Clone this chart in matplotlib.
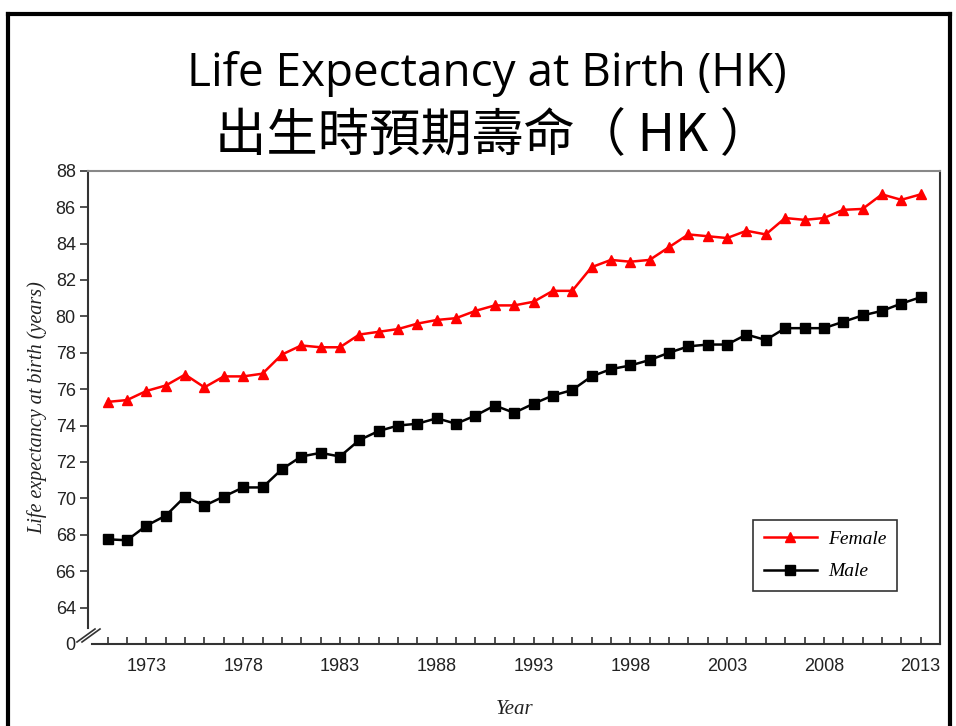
import numpy as np
import matplotlib
matplotlib.use("Agg")
import matplotlib.pyplot as plt
from matplotlib.lines import Line2D

years = list(range(1971, 2014))
female = [75.3, 75.4, 75.9, 76.2, 76.8, 76.1, 76.7, 76.7, 76.85, 77.9,
          78.4, 78.3, 78.3, 79.0, 79.15, 79.3, 79.6, 79.8, 79.9, 80.3,
          80.6, 80.6, 80.8, 81.4, 81.4, 82.7, 83.1, 83.0, 83.1, 83.8,
          84.5, 84.4, 84.3, 84.7, 84.5, 85.4, 85.3, 85.4, 85.85, 85.9,
          86.7, 86.4, 86.7]
male = [67.75, 67.7, 68.5, 69.05, 70.1, 69.6, 70.1, 70.6, 70.6, 71.6,
        72.3, 72.5, 72.3, 73.2, 73.7, 74.0, 74.1, 74.4, 74.1, 74.55,
        75.1, 74.7, 75.2, 75.65, 75.95, 76.7, 77.1, 77.3, 77.6, 78.0,
        78.35, 78.45, 78.45, 79.0, 78.7, 79.35, 79.35, 79.35, 79.7, 80.05,
        80.3, 80.7, 81.05]
yticks = [62, 64, 66, 68, 70, 72, 74, 76, 78, 80, 82, 84, 86, 88]
yticklabels = ['0'] + [str(v) for v in yticks[1:]]
xlabel_years = list(range(1973, 2014, 5))

fig = plt.figure(figsize=(9.56, 7.26), dpi=100)

# slide border (left, top, right)
W, H = 956.0, 726.0
border = dict(color='black', lw=3.0, solid_capstyle='projecting')
fig.add_artist(Line2D([8 / W, 8 / W], [0, 1 - 14 / H], transform=fig.transFigure, **border))
fig.add_artist(Line2D([8 / W, 950 / W], [1 - 14 / H, 1 - 14 / H], transform=fig.transFigure, **border))
fig.add_artist(Line2D([950 / W, 950 / W], [0, 1 - 14 / H], transform=fig.transFigure, **border))

# titles
fig.text(487 / W, 1 - 74 / H, 'Life Expectancy at Birth (HK)', ha='center', va='center',
         fontsize=33, family=['Open Sans', 'DejaVu Sans'], color='black')
fig.text(493 / W, 1 - 136 / H, '出生時預期壽命（ HK ）', ha='center', va='center',
         fontsize=37, fontweight='light', family=['Noto Sans CJK TC', 'DejaVu Sans'],
         color='black')

ax = fig.add_axes([88.3 / W, 1 - 644 / H, (940 - 88.3) / W, (644 - 170.7) / H])

ax.plot(years, female, color='#ff0000', lw=1.8, marker='^', markersize=7, label='Female')
ax.plot(years, male, color='black', lw=1.8, marker='s', markersize=6.5, label='Male')

ax.set_xlim(1970, 2014)
ax.set_ylim(62, 88)

spine_col = '#333333'
for s in ax.spines.values():
    s.set_color(spine_col)
    s.set_linewidth(1.5)
ax.spines['top'].set_color('#888888')
ax.spines['left'].set_bounds(62.9, 88)
ax.spines['bottom'].set_bounds(1970.2, 2014)

ax.set_yticks(yticks)
ax.set_yticklabels(yticklabels)
ax.set_xticks(years)
ax.set_xticklabels([str(y) if y in xlabel_years else '' for y in years])
ax.tick_params(axis='y', direction='out', length=6, width=1.2, color=spine_col,
               labelsize=13, labelcolor='#222222', pad=3)
ax.tick_params(axis='x', direction='in', length=5, width=1.2, color=spine_col,
               labelsize=13, labelcolor='#222222', pad=10)
for lab in ax.get_xticklabels() + ax.get_yticklabels():
    lab.set_family(['Liberation Sans', 'DejaVu Sans'])
# hide the tick at the axis break
ax.yaxis.get_major_ticks()[0].tick1line.set_visible(False)

# axis break marks
for dx in (0, 5):
    ax.add_artist(Line2D([(77 + dx - 88.3) / 851.7, (95 + dx - 88.3) / 851.7],
                         [(644 - 642) / 473.3, (644 - 629) / 473.3],
                         transform=ax.transAxes, color=spine_col, lw=1.2, clip_on=False))

ax.set_ylabel('Life expectancy at birth (years)', family=['Liberation Serif'], style='italic',
              fontsize=14.5, color='#222222', labelpad=6)
ax.set_xlabel('Year', family=['Liberation Serif'], style='italic', fontsize=15,
              color='#222222', labelpad=18)

leg = ax.legend(loc='upper left', bbox_to_anchor=(0.781, 0.262), frameon=True, fancybox=False,
                edgecolor='black', handlelength=2.7, handletextpad=0.6, borderpad=0.55,
                labelspacing=0.75, borderaxespad=0,
                prop={'family': 'Liberation Serif', 'style': 'italic', 'size': 14})
leg.get_frame().set_linewidth(1.2)

fig.savefig('out.png', dpi=100)
